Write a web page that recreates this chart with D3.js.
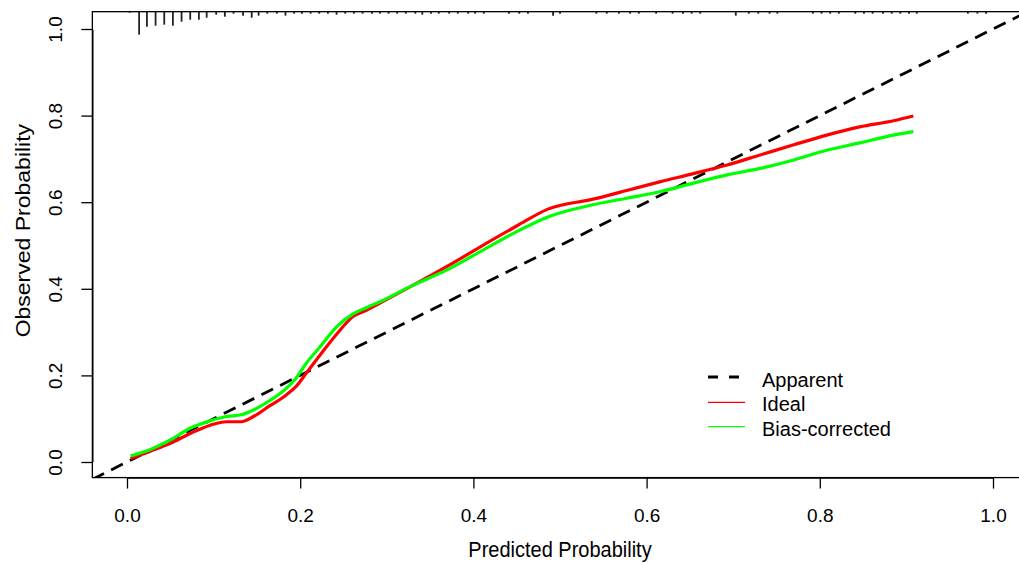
<!DOCTYPE html>
<html>
<head>
<meta charset="utf-8">
<script src="https://cdn.jsdelivr.net/npm/d3@7"></script>
<style>
  body { margin: 0; background: #fff; }
  text { font-family: "Liberation Sans", Arial, sans-serif; fill: #000; }
</style>
</head>
<body>
<div id="chart"></div>
<script>
// predicted probability grid used for both calibration curves
var predicted = [0.004, 0.027, 0.05, 0.073, 0.096, 0.115, 0.132, 0.146, 0.165, 0.184,
                 0.195, 0.207, 0.223, 0.242, 0.261, 0.277, 0.292, 0.331, 0.369, 0.408,
                 0.45, 0.486, 0.538, 0.577, 0.615, 0.654, 0.693, 0.731, 0.769, 0.808,
                 0.846, 0.885, 0.908];
var idealObs = [0.008, 0.025, 0.043, 0.066, 0.085, 0.093, 0.093, 0.105, 0.13, 0.155,
                0.174, 0.205, 0.247, 0.295, 0.336, 0.351, 0.367, 0.409, 0.451, 0.497,
                0.545, 0.584, 0.607, 0.627, 0.647, 0.666, 0.686, 0.709, 0.732, 0.755,
                0.774, 0.788, 0.799];
var biasObs = [0.014, 0.029, 0.051, 0.078, 0.095, 0.105, 0.109, 0.12, 0.142, 0.17,
               0.193, 0.228, 0.266, 0.312, 0.342, 0.357, 0.37, 0.409, 0.443, 0.486,
               0.532, 0.566, 0.594, 0.609, 0.624, 0.644, 0.663, 0.678, 0.697, 0.72,
               0.737, 0.755, 0.763];

// spike histogram of predictions along the top
var rugX = [0.003, 0.014, 0.023, 0.033, 0.043, 0.053, 0.063, 0.073, 0.083, 0.092,
            0.103, 0.113, 0.123, 0.134, 0.144, 0.152, 0.162, 0.173, 0.183, 0.193,
            0.202, 0.212, 0.222, 0.232, 0.242, 0.252, 0.262, 0.272, 0.283, 0.292,
            0.302, 0.312, 0.322, 0.333, 0.341, 0.351, 0.360, 0.372, 0.382, 0.394,
            0.402, 0.412, 0.441, 0.453, 0.463, 0.492, 0.5, 0.542, 0.554, 0.568,
            0.581, 0.591, 0.611, 0.630, 0.642, 0.652, 0.662, 0.703, 0.718, 0.729,
            0.742, 0.751, 0.792, 0.802, 0.812, 0.822, 0.841, 0.851, 0.861, 0.873,
            0.883, 0.893, 0.903, 0.912, 0.971, 0.982, 0.992];
var rugFreq = [1, 23, 15, 14, 13, 14, 10, 8, 8, 6,
               3, 5, 2, 4, 6, 4, 2, 2, 4, 2,
               2, 2, 2, 2, 3, 2, 2, 2, 2, 2,
               2, 2, 2, 2, 3, 2, 2, 2, 2, 2,
               2, 2, 2, 2, 2, 4, 2, 2, 2, 2,
               2, 2, 2, 2, 2, 2, 2, 4, 2, 2,
               2, 2, 2, 2, 2, 2, 2, 2, 2, 2,
               2, 2, 2, 2, 2, 2, 2];

var xTicks = [0, 0.2, 0.4, 0.6, 0.8, 1.0];
var yTicks = [0, 0.2, 0.4, 0.6, 0.8, 1.0];
var legendLabels = ["Apparent", "Ideal", "Bias-corrected"];
var legendColors = ["#000000", "#ff0000", "#00ff00"];

var svgWidth = 1019, svgHeight = 563;

var svg = d3.select("#chart")
    .append("svg")
    .attr("width", svgWidth)
    .attr("height", svgHeight);

var xScale = d3.scaleLinear().domain([0, 1]).range([127, 993]);
var yScale = d3.scaleLinear().domain([0, 1]).range([462, 29]);

// plot region (R style: 4% beyond data range)
var boxL = xScale(-0.04), boxR = xScale(1.04);
var boxT = yScale(1.04), boxB = yScale(-0.036);

svg.append("clipPath").attr("id", "plotClip")
    .append("rect")
    .attr("x", boxL).attr("y", boxT)
    .attr("width", boxR - boxL).attr("height", boxB - boxT);

// dashed diagonal
svg.append("line")
    .attr("clip-path", "url(#plotClip)")
    .attr("x1", xScale(-0.04)).attr("y1", yScale(-0.04))
    .attr("x2", xScale(1.04)).attr("y2", yScale(1.04))
    .attr("stroke", "#000")
    .attr("stroke-width", 2.8)
    .attr("stroke-dasharray", "13,8");

var line = d3.line()
    .x(d => xScale(d[0]))
    .y(d => yScale(d[1]))
    .curve(d3.curveMonotoneX);

svg.append("path")
    .datum(predicted.map((p, i) => [p, idealObs[i]]))
    .attr("fill", "none")
    .attr("stroke", "#ff0000")
    .attr("stroke-width", 3.2)
    .attr("d", line);

svg.append("path")
    .datum(predicted.map((p, i) => [p, biasObs[i]]))
    .attr("fill", "none")
    .attr("stroke", "#00ff00")
    .attr("stroke-width", 3.2)
    .attr("d", line);

// rug spikes hanging from the top
var rugScale = d3.scaleLinear().domain([0, 23]).range([0, 23]);
svg.append("g")
    .selectAll("line")
    .data(rugX)
    .enter()
    .append("line")
        .attr("x1", d => xScale(d))
        .attr("x2", d => xScale(d))
        .attr("y1", boxT)
        .attr("y2", (d, i) => boxT + rugScale(rugFreq[i]))
        .attr("stroke", "#222")
        .attr("stroke-width", 1.8);

// box
svg.append("rect")
    .attr("x", boxL).attr("y", boxT)
    .attr("width", boxR - boxL).attr("height", boxB - boxT)
    .attr("fill", "none")
    .attr("stroke", "#000")
    .attr("stroke-width", 1.3);

// axes
var xAxis = d3.axisBottom(xScale)
    .tickValues(xTicks)
    .tickSize(11)
    .tickSizeOuter(0)
    .tickFormat(d3.format(".1f"));

var xg = svg.append("g")
    .attr("transform", `translate(0,${boxB})`)
    .call(xAxis);
xg.selectAll("text")
    .attr("y", 44)
    .attr("dy", 0)
    .style("font-size", "19px");

var yAxis = d3.axisLeft(yScale)
    .tickValues(yTicks)
    .tickSize(11)
    .tickSizeOuter(0)
    .tickFormat(d3.format(".1f"));

var yg = svg.append("g")
    .attr("transform", `translate(${boxL},0)`)
    .call(yAxis);
yg.selectAll("text")
    .attr("x", 0)
    .attr("dy", 0)
    .attr("text-anchor", "middle")
    .attr("transform", "translate(-30.5,0) rotate(-90)")
    .style("font-size", "19px");

svg.selectAll(".domain, .tick line").attr("stroke-width", 1.3);
svg.selectAll(".tick text").attr("fill", "#000");

// axis titles
svg.append("text")
    .attr("transform", `translate(${(boxL + boxR) / 2},557) scale(1,1.1)`)
    .attr("text-anchor", "middle")
    .style("font-size", "20px")
    .text("Predicted Probability");

svg.append("text")
    .attr("transform", `translate(30,${(boxT + boxB) / 2 - 14}) scale(1,1.15) rotate(-90)`)
    .attr("text-anchor", "middle")
    .style("font-size", "20px")
    .text("Observed Probability");

// legend
var legend = svg.append("g").attr("transform", "translate(708,387)");
legendLabels.forEach(function(lab, i) {
    var g = legend.append("g").attr("transform", `translate(0,${i * 24.3})`);
    g.append("line")
        .attr("x1", 0).attr("x2", i === 0 ? 33 : 37)
        .attr("y1", i === 0 ? -10 : -9).attr("y2", i === 0 ? -10 : -9)
        .attr("stroke", legendColors[i])
        .attr("stroke-width", i === 0 ? 2.8 : 1.2)
        .attr("stroke-dasharray", i === 0 ? "10,11" : null);
    g.append("text")
        .attr("x", 54)
        .attr("y", 0)
        .style("font-size", "20px")
        .text(lab);
});
</script>
</body>
</html>
